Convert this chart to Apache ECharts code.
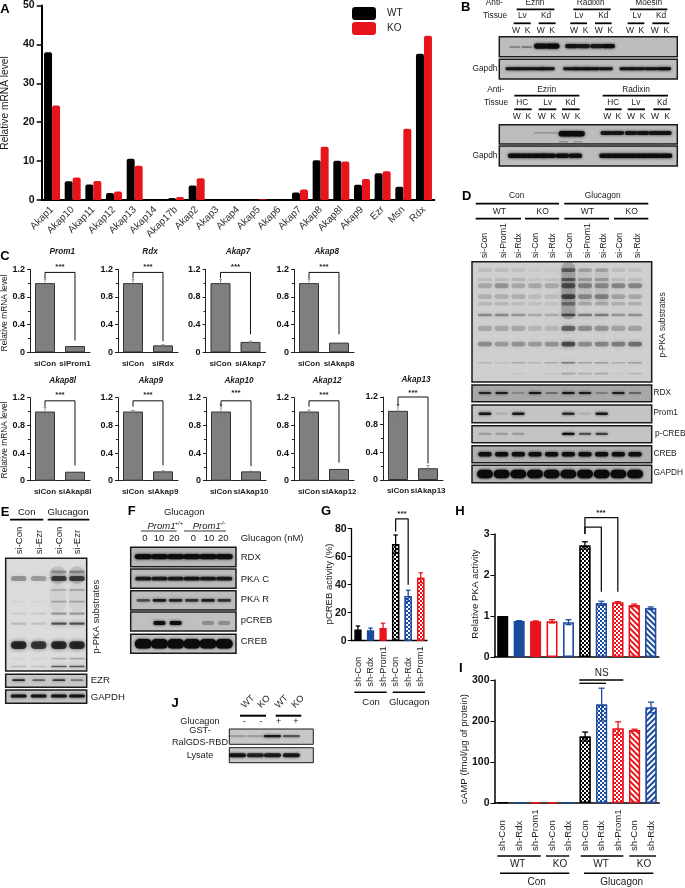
<!DOCTYPE html>
<html><head><meta charset="utf-8">
<style>html,body{margin:0;padding:0;background:#fff}#c{width:685px;height:888px}</style>
<script src="https://cdn.jsdelivr.net/npm/echarts@6/dist/echarts.min.js"></script></head>
<body><div id="c"></div>
<script>
// ---------- DATA ----------
const akapCats=['Akap1','Akap10','Akap11','Akap12','Akap13','Akap14','Akap17b','Akap2','Akap3','Akap4','Akap5','Akap6','Akap7','Akap8','Akap8l','Akap9','Ezr','Msn','Rdx'];
const akapWT=[38,4.8,4,1.8,10.6,0,0.5,3.7,0,0,0,0,1.9,10.2,10.1,3.9,6.9,3.4,37.6];
const akapKO=[24.3,5.8,4.9,2.2,8.8,0,0.8,5.6,0,0,0.2,0,2.7,13.7,9.9,5.4,7.4,18.3,42.2];
const cGenes=['Prom1','Rdx','Akap7','Akap8','Akap8l','Akap9','Akap10','Akap12','Akap13'];
const cKdNames=['siProm1','siRdx','siAkap7','siAkap8','siAkap8l','siAkap9','siAkap10','siAkap12','siAkap13'];
const cControl=[1,1,1,1,1,1,1,1,1];
const cKnockdown=[0.09,0.1,0.15,0.14,0.13,0.135,0.135,0.17,0.17];
const cControlErr=[0.06,0.05,0.05,0.06,0.06,0.015,0.1,0.02,0.09];
const cKnockdownErr=[0,0.01,0.01,0,0,0.01,0.005,0,0.04];
const cBracketEnd=[0.17,0.16,0.26,0.26,0.22,0.22,0.21,0.26,0.24];
const gCats=['sh-Con','sh-Rdx','sh-Prom1','sh-Con','sh-Rdx','sh-Prom1'];
const gVals=[8,7.5,9,69,32,45];
const gErr=[2.5,1.5,3.5,6.5,4,3.5];
const hiCats=['sh-Con','sh-Rdx','sh-Prom1','sh-Con','sh-Rdx','sh-Con','sh-Rdx','sh-Prom1','sh-Con','sh-Rdx'];
const hVals=[1,0.88,0.87,0.87,0.85,2.72,1.31,1.33,1.26,1.19];
const hErr=[0,0.005,0.01,0.04,0.06,0.09,0.05,0.02,0.03,0.03];
const iVals=[1,1,1,1,1,162,240,182,178,233];
const iErr=[0,0,0,0,0,11,40,16,2,13];
// Blot band intensities, one value per lane
const pkaD=[[.15,.15,.12,.05,.05,.75,.3,.3,.15,.12],[.15,.15,.2,.1,.12,.8,.35,.35,.15,.15],[.3,.45,.3,.3,.3,.9,.55,.5,.55,.55],[.25,.25,.25,.15,.15,.95,.5,.55,.35,.3],[.2,.2,.15,.12,.12,.6,.3,.3,.25,.25],[.55,.55,.45,.3,.3,.95,.65,.65,.45,.5],[.3,.3,.3,.2,.2,.8,.5,.45,.35,.35],[.5,.4,.45,.4,.45,.98,.5,.55,.6,.7],[.2,.15,.3,.2,.3,.7,.35,.4,.25,.4],[0,0,.08,0,.08,.35,.25,.3,.05,.2]];
const rdxD=[.8,.85,.2,.9,.35,.9,.85,.25,.85,.4];
const prom1D=[.9,.1,.85,0,0,.75,.1,.85,0,0];
const pcrebD=[.2,.2,.2,0,0,.95,.55,.65,0,0];
const crebD=[.95,.95,.95,.95,.95,.95,.95,.95,.95,.95];
const gapdhD=[1,1,1,1,1,1,1,1,1,1];
const pkaE=[[0,0,.35,.4],[.4,.35,.85,.85],[.02,.02,.25,.3],[.05,.05,.3,.3],[.1,.1,.4,.4],[.2,.15,.8,.8],[1,.9,1,1],[.05,.05,.25,.3],[.2,.15,.75,.8]];
const ezrE=[.8,.5,.7,.4];
const gapdhE=[.9,.9,.9,.9];
const rdxF=[.95,.95,.95,.95,.95,.95];
const pkacF=[.85,.85,.85,.9,.85,.85];
const pkarF=[.55,.85,.8,.7,.85,.7];
const pcrebF=[0,.95,.95,0,.25,.25];
const crebF=[1,1,1,1,1,1];
const rbdJ=[.2,.2,.9,.55];
const lysateJ=[.9,.8,.85,.85];
const ezRadB=[.3,.35,.95,1,0,.9,.85,.85,.95];
const gapdhB=[.9,.9,.9,.9,0,.9,.95,.95,.9,.9,.9,.9,1];
const ezRadB2=[.25,.25,.98,.98,0,0,.85,.85,.9,.9,.9,.9];
const gapdhB2=[.95,.95,.95,.95,.95,.95,.95,.95,.95,.95,.95,.95];

// ---------- HELPERS ----------
const FF='"Liberation Sans",Arial,sans-serif';
const BLACK='#000',BLUE='#1c4a9e',RED='#e8141c',BAR='#7f7f7f';
const grid=[],xAxis=[],yAxis=[],series=[],gfx=[];
function T(x,y,text,o={}){gfx.push({type:'text',x,y,rotation:o.rot||0,silent:true,z:20,style:{text,fill:o.c||'#1a1a1a',align:o.a||'center',verticalAlign:'middle',font:`${o.i?'italic ':''}${o.b?'bold ':''}${o.s||10}px ${FF}`}});}
function L(x1,x2,y,w=1.8){gfx.push({type:'line',silent:true,z:20,shape:{x1,y1:y,x2,y2:y},style:{stroke:'#000',lineWidth:w}});}
function addGrid(g,x,y){const i=grid.length;grid.push(Object.assign({containLabel:false},g));xAxis.push(Object.assign({gridIndex:i},x));yAxis.push(Object.assign({gridIndex:i},y));return i;}
function errorSeries(i,vals,errs,colors,lw,cap){
  series.push({type:'custom',xAxisIndex:i,yAxisIndex:i,z:6,silent:true,clip:false,encode:{x:0,y:1},
    data:vals.map((v,k)=>[k,v,errs[k]]),
    renderItem(p,api){const k=api.value(0),v=api.value(1),e=api.value(2);if(!e)return null;
      const t=api.coord([k,v+e]),b=api.coord([k,v-e]);const col=colors[k%colors.length];
      return {type:'group',children:[
        {type:'line',shape:{x1:t[0],y1:t[1],x2:b[0],y2:b[1]},style:{stroke:col,lineWidth:lw}},
        {type:'line',shape:{x1:t[0]-cap,y1:t[1],x2:t[0]+cap,y2:t[1]},style:{stroke:col,lineWidth:lw}},
        {type:'line',shape:{x1:b[0]-cap,y1:b[1],x2:b[0]+cap,y2:b[1]},style:{stroke:col,lineWidth:lw}}]};}});
}
function bracket(i,pts,w=1.3){series.push({type:'line',xAxisIndex:i,yAxisIndex:i,data:pts,symbol:'none',clip:false,silent:true,z:7,lineStyle:{color:'#111',width:w}});}
const checker={symbol:'rect',symbolSize:1,color:'#fff',dashArrayX:[[2,2],[0,2,2,0]],dashArrayY:[2,0],rotation:0};
const stripeA={symbol:'rect',symbolSize:1,color:'#fff',dashArrayX:[1,0],dashArrayY:[2,2],rotation:Math.PI/4};
const stripeB={symbol:'rect',symbolSize:1,color:'#fff',dashArrayX:[1,0],dashArrayY:[2,2],rotation:-Math.PI/4};
function st(color,kind){
  if(kind==='hollow')return {color:'#fff',borderColor:color,borderWidth:1.6};
  const s={color,borderColor:color,borderWidth:1.4};
  if(kind==='check')s.decal=checker;if(kind==='a')s.decal=stripeA;if(kind==='b')s.decal=stripeB;return s;
}
function bars(i,vals,styles,width){series.push({type:'bar',xAxisIndex:i,yAxisIndex:i,barWidth:width,z:3,silent:true,data:vals.map((v,k)=>({value:v,itemStyle:styles[k]}))});}
function blot(x1,y1,x2,y2,lmin,lmax,bg,bands,bw=1.5,gain=1,blur=3){
  const i=addGrid({left:x1,top:y1,width:x2-x1,height:y2-y1,show:true,backgroundColor:bg,borderColor:'#1a1a1a',borderWidth:bw},
    {type:'value',min:lmin,max:lmax,show:false},{type:'value',min:0,max:1,inverse:true,show:false});
  series.push({type:'custom',xAxisIndex:i,yAxisIndex:i,silent:true,clip:true,encode:{x:0,y:1},data:bands,
    renderItem(p,api){const c=api.coord([api.value(0),api.value(1)]),s=api.size([api.value(2),api.value(3)]),a=api.value(4)*gain;
      if(a<=0)return null;const f=`rgba(12,12,12,${a})`;
      return {type:'rect',shape:{x:c[0]-s[0]/2,y:c[1]-s[1]/2,width:s[0],height:s[1],r:s[1]/2},style:{fill:f,shadowBlur:blur,shadowColor:f}};}});
}
function row(vals,y,w,h,lanes){return vals.map((a,k)=>[lanes?lanes[k]:k,y,w,h,a]);}

// ---------- PANEL A ----------
const iA=addGrid({left:41.7,top:4,width:392.6,height:196},
 {type:'category',data:akapCats,axisLine:{lineStyle:{color:'#000',width:2}},axisTick:{alignWithLabel:true,length:4,lineStyle:{color:'#000',width:1.5}},axisLabel:{interval:0,rotate:45,fontSize:10,color:'#333',fontFamily:FF,margin:8}},
 {type:'value',min:0,max:50,interval:10,splitLine:{show:false},axisLine:{show:true,lineStyle:{color:'#000',width:2}},axisTick:{show:true,length:5,lineStyle:{color:'#000',width:1.5}},axisLabel:{fontSize:10.5,fontWeight:'bold',color:'#111',fontFamily:FF,margin:7}});
series.push({name:'WT',type:'bar',xAxisIndex:iA,yAxisIndex:iA,data:akapWT,barWidth:8,barGap:0,silent:true,itemStyle:{color:'#000',borderRadius:[2,2,0,0]}});
series.push({name:'KO',type:'bar',xAxisIndex:iA,yAxisIndex:iA,data:akapKO,barWidth:8,barGap:0,silent:true,itemStyle:{color:'#e8141c',borderRadius:[2,2,0,0]}});
T(5,9,'A',{b:1,s:13,a:'center',c:'#000'});
T(5,103,'Relative mRNA level',{rot:Math.PI/2,s:10.2});

// ---------- PANEL C ----------
const cLeft=[30,118,205.5,294,30,118,206,294,383];
const cTop=[269.3,269.3,269.3,269.3,397.7,397.7,397.7,397.7,397];
const cBottom=[352.3,352.3,352.3,352.3,480.7,480.7,480.7,480.7,480];
const cTitleY=[251.3,251.3,251.3,251.3,381,381,381,381,380];
const cStarY=[267,267,267,267,395,395,393,395,393];
const cTitleX=[62.3,150,238,326.7,62.7,150.7,239,327,416];
cGenes.forEach((g,k)=>{
  const i=addGrid({left:cLeft[k],top:cTop[k],width:60,height:cBottom[k]-cTop[k]},
   {type:'category',data:['siCon',cKdNames[k]],axisLine:{lineStyle:{color:'#222',width:1}},axisTick:{length:2,lineStyle:{color:'#222'}},axisLabel:{interval:0,fontSize:8,fontWeight:'bold',color:'#222',fontFamily:FF,margin:7,hideOverlap:false}},
   {type:'value',min:0,max:1.2,interval:0.4,splitLine:{show:false},axisLine:{show:true,lineStyle:{color:'#222',width:1}},axisTick:{show:true,length:3,lineStyle:{color:'#222'}},minorTick:{show:true,splitNumber:2,length:2,lineStyle:{color:'#222'}},axisLabel:{fontSize:9,fontWeight:'bold',color:'#111',fontFamily:FF,margin:5}});
  const b={color:BAR,borderColor:'#333',borderWidth:1};
  bars(i,[cControl[k],cKnockdown[k]],[b,b],20);
  errorSeries(i,[cControl[k],cKnockdown[k]],[cControlErr[k],cKnockdownErr[k]],['#777'],0.8,1.5);
  bracket(i,[[0,1.07],[0,k===8?1.2:1.155],[1,k===8?1.2:1.155],[1,cBracketEnd[k]]],1);
  T(cTitleX[k],cTitleY[k],g,{b:1,i:1,s:8.2});
  T(cLeft[k]+30,cStarY[k],'***',{b:1,s:8});
});
T(5,256.7,'C',{b:1,s:13,c:'#000'});
T(4.5,313,'Relative mRNA level',{rot:Math.PI/2,s:8.4});
T(4.5,440,'Relative mRNA level',{rot:Math.PI/2,s:8.4});

// ---------- PANEL G ----------
const axisBold={fontSize:10.5,fontWeight:'bold',color:'#111',fontFamily:FF,margin:5};
const iG=addGrid({left:351.7,top:528.7,width:75.3,height:112},
 {type:'category',data:gCats,axisLine:{lineStyle:{color:'#000',width:1.3}},axisTick:{alignWithLabel:true,length:3,lineStyle:{color:'#000'}},axisLabel:{interval:0,rotate:90,align:'left',verticalAlign:'middle',margin:46,fontSize:9.3,color:'#222',fontFamily:FF,hideOverlap:false}},
 {type:'value',min:0,max:80,interval:20,splitLine:{show:false},axisLine:{show:true,lineStyle:{color:'#000',width:1.3}},axisTick:{show:true,length:4,lineStyle:{color:'#000'}},axisLabel:axisBold});
const gStyles=[st(BLACK),st(BLUE),st(RED),st(BLACK,'check'),st(BLUE,'check'),st(RED,'check')];
bars(iG,gVals,gStyles,7.3);
errorSeries(iG,gVals,gErr,[BLACK,BLUE,RED],1.3,2.2);
bracket(iG,[[3,78],[3,87],[4,87],[4,40]]);
T(326,511.7,'G',{b:1,s:13,c:'#000'});
T(329,584,'pCREB activity (%)',{rot:Math.PI/2,s:9.5});
T(402,514,'***',{b:1,s:8});
L(354.3,386.7,692.3,1.4);L(392.7,425,692.3,1.4);
T(371,702,'Con',{s:9.5});T(409.3,702,'Glucagon',{s:9.5});

// ---------- PANEL H ----------
const hStyles=[st(BLACK),st(BLUE),st(RED),st(RED,'hollow'),st(BLUE,'hollow'),st(BLACK,'check'),st(BLUE,'check'),st(RED,'check'),st(RED,'a'),st(BLUE,'a')];
const errCols=[BLACK,BLUE,RED,RED,BLUE,BLACK,BLUE,RED,RED,BLUE];
const iH=addGrid({left:494.5,top:534,width:164.4,height:123},
 {type:'category',data:hiCats,axisLine:{lineStyle:{color:'#000',width:1.5}},axisTick:{alignWithLabel:true,length:3,lineStyle:{color:'#000'}},axisLabel:{show:false}},
 {type:'value',min:0,max:3,interval:1,splitLine:{show:false},axisLine:{show:true,lineStyle:{color:'#000',width:1.5}},axisTick:{show:true,length:4,lineStyle:{color:'#000'}},axisLabel:axisBold});
bars(iH,hVals,hStyles,11);
errorSeries(iH,hVals,hErr,errCols,1.3,3);
bracket(iH,[[5,3.0],[5,3.17],[6,3.17],[6,1.59]]);
bracket(iH,[[5,3.0],[5,3.4],[7,3.4],[7,1.59]]);
T(460,511.7,'H',{b:1,s:13,c:'#000'});
T(475,594,'Relative PKA activity',{rot:Math.PI/2,s:9.7});
T(601,513,'***',{b:1,s:8});

// ---------- PANEL I ----------
const iStyles=[st(BLACK),st(BLUE),st(RED),st(RED,'hollow'),st(BLUE,'hollow'),st(BLACK,'check'),st(BLUE,'check'),st(RED,'check'),st(RED,'a'),st(BLUE,'b')];
const iI=addGrid({left:494.5,top:680,width:164.8,height:123},
 {type:'category',data:hiCats,axisLine:{lineStyle:{color:'#000',width:1.5}},axisTick:{alignWithLabel:true,length:3,lineStyle:{color:'#000'}},axisLabel:{interval:0,rotate:90,align:'left',verticalAlign:'middle',margin:48,fontSize:9.6,color:'#222',fontFamily:FF,hideOverlap:false}},
 {type:'value',min:0,max:300,interval:100,splitLine:{show:false},axisLine:{show:true,lineStyle:{color:'#000',width:1.5}},axisTick:{show:true,length:4,lineStyle:{color:'#000'}},axisLabel:axisBold});
bars(iI,iVals,iStyles,11);
errorSeries(iI,iVals,iErr,errCols,1.3,3);
T(460.7,668,'I',{b:1,s:13,c:'#000'});
T(464.7,749,'cAMP (fmol/\u00b5g of protein)',{rot:Math.PI/2,s:9.7});
T(601.7,673,'NS',{s:10});
L(579.3,623.3,680,1.3);L(579.3,606,683.3,1.3);
L(497.3,540.7,856,1.4);L(546,569.3,856,1.4);L(580.7,623.3,856,1.4);L(629.3,656,856,1.4);
L(500,569.3,873.3,1.4);L(584,653.3,873.3,1.4);
T(517.7,864,'WT',{s:10});T(560,864,'KO',{s:10});T(601,864,'WT',{s:10});T(644,864,'KO',{s:10});
T(536.7,882.3,'Con',{s:10});T(621.7,882.3,'Glucagon',{s:10});

// ---------- PANEL B ----------
const bg='#bdbdbd';
blot(499.3,36.7,677.3,56.7,0,15,bg,[...row([ezRadB[0],ezRadB[1]],.52,.9,.08,[1.3,2.3]),...row(ezRadB.slice(2,4),.47,1.15,.26,[3.5,4.5]),...row(ezRadB.slice(5),.47,1.1,.22,[6.1,7.1,8.2,9.2])]);
blot(499.3,59.3,677.3,79,0,15,bg,row(gapdhB,.48,1.15,.15,[1.1,2.1,3.15,4.1,5,5.95,6.9,7.9,9,10.7,11.7,12.8,13.9]));
blot(499.3,124.7,677.3,144,0,15,bg,[...row(ezRadB2.slice(0,2),.42,1,.07,[3.4,4.4]),...row(ezRadB2.slice(2,4),.47,1.2,.28,[5.6,6.6]),...row([.25,.2],.88,.8,.08,[5.4,6.6]),...row(ezRadB2.slice(6),.43,1.05,.2,[9.05,10,11.1,12.1,13.1,14])]);
blot(499.3,146,677.3,166,0,15,bg,row(gapdhB2,.49,1.15,.22,[1.3,2.3,3.3,4.2,5.3,6.4,9,10,11,12,13,14]));
T(465.7,7.3,'B',{b:1,s:13,c:'#000'});
const bx=z=>435+z/3;
[['Anti-',178,3],['Ezrin',300,3],['Radixin',467,3],['Moesin',641,3],['Tissue',180,16],['Lv',262,16],['Kd',333,16],['Lv',432,16],['Kd',505,16],['Lv',606,16],['Kd',678,16],
 ['Anti-',182,89.3],['Ezrin',335,89.3],['Radixin',603,89.3],['Tissue',183,103],['HC',262,103],['Lv',338,103],['Kd',406,103],['HC',535,103],['Lv',603,103],['Kd',681,103]].forEach(d=>T(bx(d[1]),d[2],d[0],{s:8.3}));
[[245,358,9.3],[415,527,9.3],[585,697,9.3],[236,287,23.3],[311,362,23.3],[406,456,23.3],[480,530,23.3],[578,628,23.3],[652,703,23.3],
 [238,433,95.7],[503,699,95.7],[238,290,109.3],[311,364,109.3],[381,434,109.3],[510,560,109.3],[578,630,109.3],[655,706,109.3]].forEach(d=>L(bx(d[0]),bx(d[1]),d[2]));
[243,278,317,351,417,452,491,526,585,619,659,694].forEach((z,k)=>T(bx(z),30.7,k%2?'K':'W',{s:8.5}));
[245,280,320,354,392,428,517,550,588,623,660,696].forEach((z,k)=>T(bx(z),117,k%2?'K':'W',{s:8.5}));
T(bx(150),68.5,'Gapdh',{s:8.3});T(bx(150),155.5,'Gapdh',{s:8.3});

// ---------- PANEL D ----------
const dMin=-0.78,dMax=10;
const dY=[.07,.147,.2,.29,.35,.443,.554,.685,.84,.93],dH=[.03,.025,.04,.04,.03,.022,.045,.04,.014,.014];
blot(472,261.7,651.7,382,dMin,dMax,'#cfcfcf',[[5,.24,.85,.48,.3],[6,.2,.85,.3,.1],[7,.2,.85,.3,.1],...pkaD.flatMap((r,k)=>row(r,dY[k],.85,dH[k]))],1.5,.62,5);
blot(472,385,651.7,401.7,dMin,dMax,'#a8a8a8',row(rdxD,.48,.75,.12));
blot(472,405,651.7,422.7,dMin,dMax,'#c4c4c4',row(prom1D,.5,.75,.14));
blot(472,425.7,651.7,442.7,dMin,dMax,'#c4c4c4',row(pcrebD,.48,.75,.14));
blot(472,445.7,651.7,462.7,dMin,dMax,'#b0b0b0',row(crebD,.5,.8,.26));
blot(472,465.3,651.7,482.7,dMin,dMax,'#b8b8b8',row(gapdhD,.5,.95,.5));
T(466.7,196,'D',{b:1,s:13,c:'#000'});
T(516.7,196,'Con',{s:8.4});T(602.7,196,'Glucagon',{s:8.4});
L(475.7,559,203.7);L(564.3,648.3,203.7);
L(475.7,521,218.7);L(525,559,218.7);L(564.3,609,218.7);L(614,648.3,218.7);
T(499.3,212,'WT',{s:8.5});T(542.7,212,'KO',{s:8.5});T(587.3,212,'WT',{s:8.5});T(631.7,212,'KO',{s:8.5});
['si-Con','si-Prom1','si-Rdx','si-Con','si-Rdx','si-Con','si-Prom1','si-Rdx','si-Con','si-Rdx'].forEach((s,k)=>T(435+[150,205,252,302,352,405,458,505,555,607][k]/3,258,s,{rot:Math.PI/2,a:'left',s:8.7}));
T(663,325,'p-PKA substrates',{rot:Math.PI/2,s:8.4});
T(653.5,393,'RDX',{a:'left',s:8.3});T(653.5,413,'Prom1',{a:'left',s:8.3});T(655,434,'p-CREB',{a:'left',s:8.3});T(653.5,454,'CREB',{a:'left',s:8.3});T(653.5,472.7,'GAPDH',{a:'left',s:8.3});

// ---------- PANEL E ----------
const eY=[.12,.18,.28,.385,.49,.58,.77,.89,.96],eH=[.025,.045,.015,.015,.02,.02,.07,.015,.012];
blot(5.7,558.3,86.7,671,-0.67,3.5,'#dcdcdc',[[2,.15,.85,.16,.15],[3,.15,.85,.16,.15],[2,.35,.85,.25,.06],[3,.35,.85,.25,.06],...pkaE.flatMap((r,k)=>row(r,eY[k],.8,eH[k],[0,1.03,2.07,3]))],1.5,.78,4);
blot(5.7,674.3,86.7,687.3,-0.67,3.5,'#c8c8c8',row(ezrE,.45,.65,.14,[0,1.03,2.07,3]));
blot(5.7,690,86.7,703.3,-0.67,3.5,'#c4c4c4',row(gapdhE,.45,.82,.24,[0,1.03,2.07,3]));
T(5,512,'E',{b:1,s:13,c:'#000'});
T(26.7,512,'Con',{s:9.6});T(68,512,'Glucagon',{s:9.6});
L(10,43.3,519.7);L(47.7,89.3,519.7);
[[19.3,'si-Con'],[39.3,'si-Ezr'],[59.3,'si-Con'],[77.3,'si-Ezr']].forEach(d=>T(d[0],554.3,d[1],{rot:Math.PI/2,a:'left',s:9.6}));
T(96.7,616.7,'p-PKA substrates',{rot:Math.PI/2,s:9.5});
T(90.7,680,'EZR',{a:'left',s:9.6});T(90.7,697,'GAPDH',{a:'left',s:9.6});

// ---------- PANEL F ----------
const fMin=-0.78,fMax=5.73;
blot(130.7,547.3,236,566.7,fMin,fMax,'#b8b8b8',row(rdxF,.48,1.05,.28));
blot(130.7,569,236,588.3,fMin,fMax,'#bcbcbc',row(pkacF,.5,1,.2));
blot(130.7,590.7,236,610,fMin,fMax,'#bcbcbc',row(pkarF,.5,.85,.15));
blot(130.7,612,236,631,fMin,fMax,'#c0c0c0',row(pcrebF,.58,.75,.2));
blot(130.7,634.3,236,653.3,fMin,fMax,'#c4c4c4',row(crebF,.5,1.05,.5));
T(131.7,511.7,'F',{b:1,s:13,c:'#000'});
T(184.3,512,'Glucagon',{s:9.5});
T(147.5,526,'Prom1',{i:1,s:9.5,a:'left'});T(174.5,523.5,'+/+',{i:1,s:6,a:'left'});
T(192.7,526,'Prom1',{i:1,s:9.5,a:'left'});T(219.7,523.5,'-/-',{i:1,s:6,a:'left'});
L(141,176.7,531,.8);L(184,226,531,.8);
[[145,'0'],[159,'10'],[174.3,'20'],[193.3,'0'],[209,'10'],[223.3,'20']].forEach(d=>T(d[0],538.5,d[1],{s:9.5}));
T(240.7,538,'Glucagon (nM)',{a:'left',s:9.5});
[['RDX',557.7],['PKA C',579.7],['PKA R',599.7],['pCREB',620.3],['CREB',641]].forEach(d=>T(240.7,d[1],d[0],{a:'left',s:9.5}));

// ---------- PANEL J ----------
blot(229.3,729,313.3,744.3,-0.4,4.27,'#c8c8c8',row(rbdJ,.47,.95,.14,[0.05,1.05,2,3.05]),1);
blot(229.3,747.7,313.3,762.7,-0.4,4.27,'#c8c8c8',row(lysateJ,.5,.95,.26,[0.05,1.05,2,3.05]),1);
T(175,703,'J',{b:1,s:13,c:'#000'});
[[248,'WT'],[264,'KO'],[281.7,'WT'],[298,'KO']].forEach(d=>T(d[0],701.7,d[1],{rot:Math.PI/4,s:9.2}));
L(240,266,715.7,2);L(275.7,301.3,715.7,2);
[[244.3,'-'],[260.7,'-'],[278.7,'+'],[296,'+']].forEach(d=>T(d[0],722,d[1],{s:9}));
T(200,721,'Glucagon',{s:9.2});T(200,730.5,'GST-',{s:9.2});T(200,742,'RalGDS-RBD',{s:9.2});T(200,755,'Lysate',{s:9.2});

// ---------- CHART ----------
const chart=echarts.init(document.getElementById('c'),null,{renderer:'canvas'});
chart.setOption({animation:false,backgroundColor:'#fff',textStyle:{fontFamily:FF},
  legend:{data:['WT','KO'],left:352,top:7,orient:'vertical',itemWidth:24,itemHeight:13,itemGap:2,textStyle:{fontSize:10,color:'#222',fontFamily:FF,padding:[0,0,0,6]},icon:'roundRect',selectedMode:false,padding:0},
  grid,xAxis,yAxis,series,graphic:{elements:gfx}});
</script></body></html>
